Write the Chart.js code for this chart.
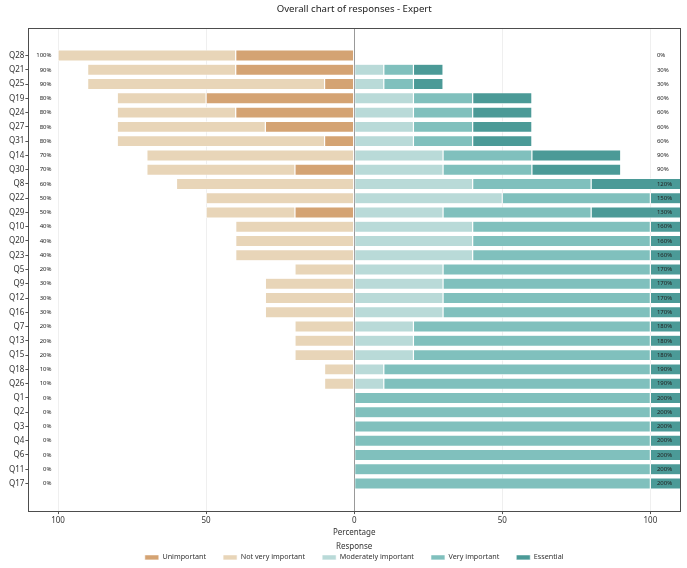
<!DOCTYPE html>
<html>
<head>
<meta charset="utf-8">
<script src="https://cdn.jsdelivr.net/npm/chart.js@4.4.1/dist/chart.umd.min.js"></script>
<style>
  html, body { margin: 0; padding: 0; background: #fff; }
  #wrap { width: 687px; height: 568px; }
</style>
</head>
<body>
<div id="wrap"><canvas id="chart"></canvas></div>
<script>
// question order, top to bottom
const questions = ["Q28","Q21","Q25","Q19","Q24","Q27","Q31","Q14","Q30","Q8","Q22","Q29","Q10","Q20",
  "Q23","Q5","Q9","Q12","Q16","Q7","Q13","Q15","Q18","Q26","Q1","Q2","Q3","Q4","Q6","Q11","Q17"];

// left side (drawn as negatives)
const unimportant     = [40,40,10,50,40,30,10, 0,20, 0, 0,20, 0, 0, 0, 0, 0, 0, 0, 0, 0, 0, 0, 0, 0, 0, 0, 0, 0, 0, 0];
const notVeryImp      = [60,50,80,30,40,50,70,70,50,60,50,30,40,40,40,20,30,30,30,20,20,20,10,10, 0, 0, 0, 0, 0, 0, 0];
// right side
const moderatelyImp   = [ 0,10,10,20,20,20,20,30,30,40,50,30,40,40,40,30,30,30,30,20,20,20,10,10, 0, 0, 0, 0, 0, 0, 0];
const veryImp         = [ 0,10,10,20,20,20,20,30,30,40,50,50,60,60,60,70,70,70,70,80,80,80,90,90,100,100,100,100,100,100,100];
const essential       = [ 0,10,10,20,20,20,20,30,30,40,50,50,60,60,60,70,70,70,70,80,80,80,90,90,100,100,100,100,100,100,100];

const xTickValues = [-100, -50, 0, 50, 100];

const colors = {
  unimportant: "#d4a373",
  notVery: "#e8d5b8",
  moderate: "#b9dad8",
  very: "#80c0bd",
  essential: "#4b9a97"
};

function points(arr, sign){
  return arr.map((v, i) => ({ x: sign * v, y: i }));
}

// totals printed at each end of the rows
const leftTotals = questions.map((q, i) => unimportant[i] + notVeryImp[i]);
const rightTotals = questions.map((q, i) => moderatelyImp[i] + veryImp[i] + essential[i]);

const endLabels = {
  id: "endLabels",
  afterDatasetsDraw(chart){
    const { ctx, scales } = chart;
    ctx.save();
    ctx.font = "6px 'Noto Sans'";
    ctx.fillStyle = "#222";
    ctx.textBaseline = "middle";
    questions.forEach((q, i) => {
      const y = scales.y.getPixelForValue(i);
      ctx.textAlign = "right";
      ctx.fillText(leftTotals[i] + "%", scales.x.getPixelForValue(-102.2), y);
      ctx.textAlign = "left";
      ctx.fillText(rightTotals[i] + "%", scales.x.getPixelForValue(102.2), y);
    });
    ctx.restore();
  }
};

// panel border like ggplot
const panelBox = {
  id: "panelBox",
  afterDatasetsDraw(chart){
    const a = chart.chartArea, ctx = chart.ctx;
    ctx.save();
    ctx.strokeStyle = "#4d4d4d";
    ctx.lineWidth = 1;
    ctx.strokeRect(Math.round(a.left) + 0.5, Math.round(a.top) + 0.5,
      Math.round(a.right - a.left), Math.round(a.bottom - a.top));
    ctx.restore();
  }
};

Chart.defaults.font.family = "'Noto Sans', sans-serif";
Chart.defaults.font.size = 8;
Chart.defaults.color = "#333";

const ds = (label, data, color) => ({
  label, data, backgroundColor: color, borderColor: "#fff",
  borderWidth: 0.6, borderSkipped: false,
  barPercentage: 0.9, categoryPercentage: 0.87
});

new Chart(document.getElementById("chart"), {
  type: "bar",
  data: {
    datasets: [
      ds("Unimportant", points(unimportant, -1), colors.unimportant),
      ds("Not very important", points(notVeryImp, -1), colors.notVery),
      ds("Moderately important", points(moderatelyImp, 1), colors.moderate),
      ds("Very important", points(veryImp, 1), colors.very),
      ds("Essential", points(essential, 1), colors.essential)
    ]
  },
  options: {
    indexAxis: "y",
    responsive: true,
    maintainAspectRatio: false,
    animation: false,
    layout: { padding: { left: 8, right: 7, bottom: -3, top: 0 } },
    scales: {
      x: {
        type: "linear",
        stacked: true,
        min: -110, max: 110,
        afterBuildTicks: s => { s.ticks = xTickValues.map(v => ({ value: v })); },
        ticks: { callback: v => Math.abs(v), padding: 1.5, maxRotation: 0 },
        grid: {
          color: c => (c.tick && c.tick.value === 0) ? "#999" : "#efefef",
          tickColor: "#555", tickLength: 3.5
        },
        border: { display: false },
        title: { display: true, text: "Percentage", padding: { top: 1.5, bottom: 4.4 } }
      },
      y: {
        type: "linear",
        stacked: true,
        reverse: true,
        offset: false,
        min: -1.93, max: questions.length - 1 + 1.9,
        afterBuildTicks: s => { s.ticks = questions.map((q, i) => ({ value: i })); },
        ticks: { callback: v => questions[v], autoSkip: false, padding: 1 },
        grid: { offset: false, drawOnChartArea: false, tickColor: "#555", tickLength: 3 },
        border: { display: false }
      }
    },
    plugins: {
      title: {
        display: true,
        fullSize: false,
        text: "Overall chart of responses - Expert",
        color: "#222",
        font: { size: 9.6, weight: "normal" },
        padding: { top: 3.5, bottom: 13 }
      },
      legend: {
        position: "bottom",
        fullSize: false,
        title: { display: true, text: "Response", padding: { top: 1, bottom: -16 } },
        labels: { boxWidth: 14, boxHeight: 5, padding: 17, font: { size: 7.2 } }
      },
      tooltip: { enabled: false }
    }
  },
  plugins: [endLabels, panelBox]
});
</script>
</body>
</html>
